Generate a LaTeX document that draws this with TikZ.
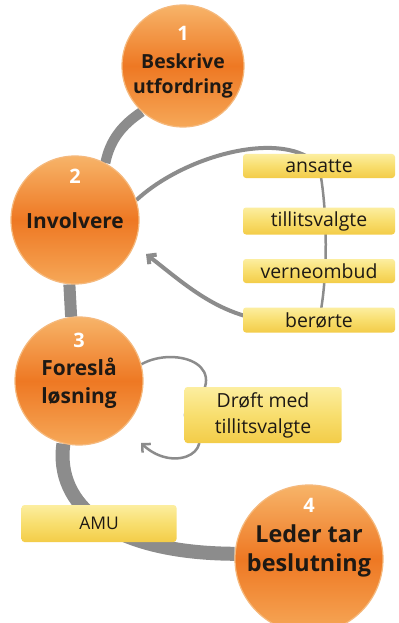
\documentclass[tikz,border=0pt]{standalone}
\usepackage{fontspec}
\setmainfont{Open Sans}
\usetikzlibrary{arrows.meta}
\definecolor{otop}{RGB}{247,180,105}
\definecolor{omid}{RGB}{238,120,35}
\definecolor{obot}{RGB}{246,168,88}
\definecolor{oedge}{RGB}{245,185,125}
\definecolor{ytop}{RGB}{252,238,160}
\definecolor{ymid}{RGB}{248,222,110}
\definecolor{ybot}{RGB}{243,204,72}
\definecolor{link}{RGB}{140,140,140}
\definecolor{ink}{RGB}{30,25,20}
\pgfdeclarelayer{bg}
\pgfsetlayers{bg,main}
\begin{document}
\begin{tikzpicture}[x=1bp,y=-1bp,
 stepcircle/.style={circle,inner sep=0pt,minimum size=#1,draw=oedge,line width=1.2bp,top color=otop,bottom color=obot,middle color=omid},
 numtext/.style={text=white,font=\bfseries\fontsize{20}{20}\selectfont,inner sep=0pt},
 circtext/.style={text=ink,font=\bfseries\fontsize{21}{25}\selectfont,align=center,inner sep=0pt},
 ybox/.style={rounded corners=3bp,top color=ytop,bottom color=ybot,middle color=ymid,draw=none,minimum width=152bp,minimum height=#1,inner sep=0pt,text=ink,font=\fontsize{19.5}{26}\selectfont,align=center},
 linkline/.style={draw=link,line width=#1},
 barb/.style={-{Straight Barb[length=6bp,width=12bp]}},
]
\useasboundingbox (0,0) rectangle (398,623);
\clip (0,0) rectangle (398,623);
% circles
\node[stepcircle=122bp] (c1) at (183,66) {};
\node[stepcircle=128bp] (c2) at (75,220) {};
\node[stepcircle=128bp] (c3) at (79,381) {};
\node[stepcircle=148bp] (c4) at (309,559) {};
\node[numtext] (n1) at (183,33) {1};
\node[circtext,font=\bfseries\fontsize{19.5}{25}\selectfont] (t1) at (183,76) {Beskrive\\utfordring};
\node[numtext] (n2) at (75,176) {2};
\node[circtext] (t2) at (75,221) {Involvere};
\node[numtext] (n3) at (79,340) {3};
\node[circtext,font=\bfseries\fontsize{21}{28}\selectfont] (t3) at (79,383) {Foreslå\\løsning};
\node[numtext] (n4) at (309,505) {4};
\node[circtext,font=\bfseries\fontsize{23.5}{29}\selectfont] (t4) at (309,551) {Leder tar\\beslutning};
% boxes
\node[ybox=24bp] (b1) at (319,166) {ansatte};
\node[ybox=27bp] (b2) at (319,221) {tillitsvalgte};
\node[ybox=24bp] (b3) at (319,271) {verneombud};
\node[ybox=25bp] (b4) at (319,320) {berørte};
\node[ybox=56bp,minimum width=157bp] (d) at (263,415) {Drøft med\\tillitsvalgte};
\node[ybox=37bp,minimum width=155bp,font=\fontsize{17.5}{21}\selectfont] (amu) at (99,523.5) {AMU};
\coordinate (a2) at (146,254);
\coordinate (a3) at (141,443);
\begin{pgfonlayer}{bg}
\fill[white] (0,0) rectangle (398,623);
\draw[linkline=10bp] (c1.228) .. controls (122,125) and (110,140) .. (c2.62);
\draw[linkline=12bp] (c2.-95) -- (c3.97);
\draw[linkline=14bp] (c3.256) .. controls (55,505) and (110,553) .. (c4.176);
\draw[linkline=4bp] (c2.18) .. controls (185,155) and (285,128) .. (b1.center);
\draw[linkline=2.5bp] (b1.center) .. controls (328,210) and (328,280) .. (b4.center);
\draw[linkline=4bp,barb] (b4.center) .. controls (235,332) and (195,292) .. (a2);
\draw[linkline=2.5bp] (c3.15) .. controls (175,345) and (240,365) .. (d.west);
\draw[linkline=2.5bp,barb] (d.west) .. controls (225,450) and (175,475) .. (a3);
\end{pgfonlayer}
\end{tikzpicture}
\end{document}
